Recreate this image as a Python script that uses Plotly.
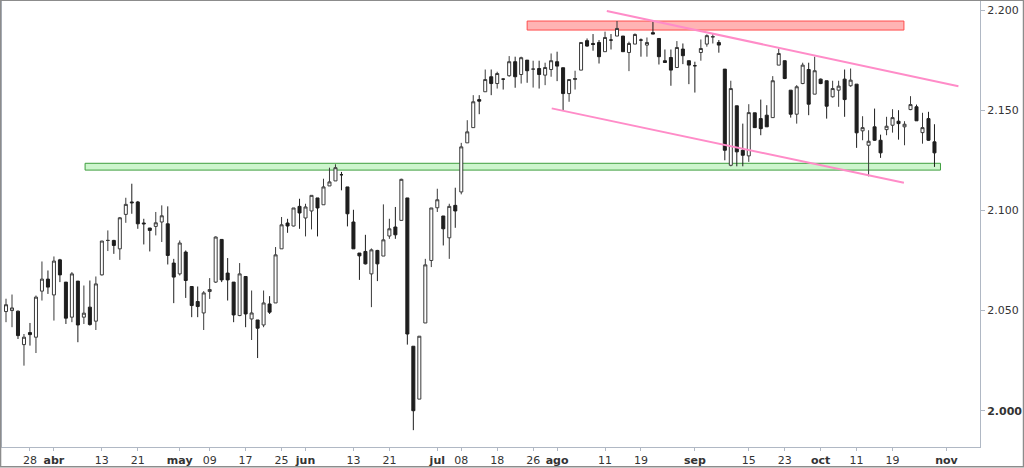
import plotly.graph_objects as go

# ---- data ----
opens = [2.0495, 2.0500, 2.0497, 2.0330, 2.0390, 2.0367, 2.0597, 2.0657, 2.0578, 2.0753,
         2.0642, 2.0467, 2.0647, 2.0467, 2.0517, 2.0447, 2.0678, 2.0850, 2.0850, 2.0808,
         2.0980, 2.1042, 2.1042, 2.0937, 2.0912, 2.0920, 2.0942, 2.0933, 2.0737, 2.0683,
         2.0792, 2.0620, 2.0545, 2.0488, 2.0595, 2.0642, 2.0855, 2.0687, 2.0642, 2.0475,
         2.0670, 2.0458, 2.0453, 2.0428, 2.0533, 2.0538, 2.0808, 2.0937, 2.0922, 2.1020,
         2.0962, 2.0997, 2.1062, 2.1028, 2.1122, 2.1147, 2.1178, 2.1117, 2.0942, 2.0787,
         2.0795, 2.0683, 2.0800, 2.0772, 2.0872, 2.0917, 2.0950, 2.1062, 2.0322, 2.0058,
         2.0438, 2.0750, 2.1013, 2.0972, 2.0863, 2.1025, 2.1092, 2.1337, 2.1413, 2.1553,
         2.1592, 2.1667, 2.1633, 2.1655, 2.1672, 2.1742, 2.1678, 2.1750, 2.1705, 2.1708,
         2.1675, 2.1703, 2.1742, 2.1712, 2.1583, 2.1653, 2.1700, 2.1847, 2.1833, 2.1838,
         2.1792, 2.1850, 2.1870, 2.1870, 2.1788, 2.1830, 2.1850, 2.1825, 2.1887, 2.1858,
         2.1747, 2.1763, 2.1713, 2.1805, 2.1747, 2.1722, 2.1788, 2.1830, 2.1865, 2.1838,
         2.1705, 2.1225, 2.1522, 2.1300, 2.1272, 2.1487, 2.1458, 2.1475, 2.1463, 2.1725,
         2.1747, 2.1600, 2.1480, 2.1633, 2.1703, 2.1580, 2.1655, 2.1647, 2.1567, 2.1600,
         2.1655, 2.1622, 2.1630, 2.1397, 2.1325, 2.1417, 2.1350, 2.1403, 2.1425, 2.1445,
         2.1417, 2.1503, 2.1517, 2.1388, 2.1458, 2.1342]
highs = [2.0559, 2.0580, 2.0500, 2.0383, 2.0438, 2.0575, 2.0745, 2.0700, 2.0770, 2.0758,
         2.0642, 2.0692, 2.0647, 2.0625, 2.0650, 2.0670, 2.0847, 2.0900, 2.0853, 2.0967,
         2.1063, 2.1133, 2.1047, 2.0958, 2.0912, 2.0992, 2.1025, 2.1020, 2.0758, 2.0850,
         2.0800, 2.0620, 2.0620, 2.0597, 2.0662, 2.0870, 2.0855, 2.0762, 2.0642, 2.0737,
         2.0670, 2.0600, 2.0453, 2.0600, 2.0572, 2.0817, 2.0967, 2.0958, 2.1012, 2.1058,
         2.1033, 2.1075, 2.1062, 2.1158, 2.1213, 2.1230, 2.1192, 2.1117, 2.1003, 2.0787,
         2.0878, 2.0810, 2.0803, 2.1030, 2.0958, 2.1017, 2.1158, 2.1062, 2.0322, 2.0372,
         2.0758, 2.1012, 2.1108, 2.0972, 2.1033, 2.1113, 2.1337, 2.1450, 2.1575, 2.1575,
         2.1703, 2.1703, 2.1692, 2.1658, 2.1770, 2.1767, 2.1767, 2.1750, 2.1747, 2.1747,
         2.1737, 2.1783, 2.1792, 2.1712, 2.1653, 2.1697, 2.1838, 2.1858, 2.1880, 2.1850,
         2.1892, 2.1880, 2.1945, 2.1870, 2.1842, 2.1883, 2.1858, 2.1863, 2.1942, 2.1858,
         2.1803, 2.1803, 2.1845, 2.1833, 2.1747, 2.1742, 2.1853, 2.1878, 2.1883, 2.1850,
         2.1705, 2.1647, 2.1522, 2.1433, 2.1530, 2.1487, 2.1553, 2.1525, 2.1670, 2.1808,
         2.1747, 2.1600, 2.1625, 2.1737, 2.1737, 2.1767, 2.1658, 2.1647, 2.1647, 2.1647,
         2.1703, 2.1708, 2.1630, 2.1470, 2.1400, 2.1508, 2.1378, 2.1467, 2.1505, 2.1500,
         2.1445, 2.1570, 2.1528, 2.1487, 2.1492, 2.1430]
lows = [2.0442, 2.0417, 2.0358, 2.0225, 2.0325, 2.0288, 2.0550, 2.0583, 2.0450, 2.0642,
        2.0433, 2.0442, 2.0342, 2.0433, 2.0425, 2.0403, 2.0675, 2.0797, 2.0783, 2.0753,
        2.0938, 2.0983, 2.0908, 2.0830, 2.0795, 2.0875, 2.0842, 2.0730, 2.0537, 2.0675,
        2.0563, 2.0467, 2.0467, 2.0403, 2.0558, 2.0638, 2.0642, 2.0550, 2.0442, 2.0472,
        2.0417, 2.0353, 2.0263, 2.0417, 2.0483, 2.0538, 2.0808, 2.0888, 2.0920, 2.0908,
        2.0870, 2.0905, 2.0870, 2.1028, 2.1122, 2.1147, 2.1100, 2.0920, 2.0808, 2.0653,
        2.0730, 2.0517, 2.0647, 2.0772, 2.0858, 2.0858, 2.0950, 2.0330, 1.9903, 2.0058,
        2.0438, 2.0717, 2.0992, 2.0825, 2.0758, 2.0913, 2.1080, 2.1337, 2.1413, 2.1480,
        2.1592, 2.1575, 2.1608, 2.1603, 2.1667, 2.1612, 2.1633, 2.1637, 2.1613, 2.1608,
        2.1625, 2.1667, 2.1645, 2.1500, 2.1542, 2.1603, 2.1700, 2.1817, 2.1797, 2.1733,
        2.1792, 2.1803, 2.1870, 2.1792, 2.1695, 2.1830, 2.1767, 2.1767, 2.1880, 2.1728,
        2.1738, 2.1622, 2.1713, 2.1730, 2.1630, 2.1588, 2.1747, 2.1817, 2.1833, 2.1787,
        2.1250, 2.1220, 2.1220, 2.1220, 2.1242, 2.1413, 2.1375, 2.1417, 2.1463, 2.1725,
        2.1655, 2.1463, 2.1433, 2.1630, 2.1475, 2.1580, 2.1630, 2.1458, 2.1563, 2.1517,
        2.1467, 2.1617, 2.1312, 2.1350, 2.1170, 2.1347, 2.1262, 2.1375, 2.1388, 2.1353,
        2.1325, 2.1500, 2.1447, 2.1333, 2.1347, 2.1217]
closes = [2.0529, 2.0513, 2.0375, 2.0367, 2.0380, 2.0567, 2.0657, 2.0617, 2.0747, 2.0678,
          2.0462, 2.0683, 2.0428, 2.0487, 2.0430, 2.0633, 2.0847, 2.0850, 2.0825, 2.0963,
          2.1030, 2.1038, 2.0933, 2.0933, 2.0900, 2.0938, 2.0973, 2.0775, 2.0667, 2.0837,
          2.0650, 2.0525, 2.0520, 2.0588, 2.0605, 2.0867, 2.0653, 2.0653, 2.0478, 2.0683,
          2.0483, 2.0488, 2.0412, 2.0538, 2.0492, 2.0778, 2.0928, 2.0922, 2.1012, 2.0987,
          2.1017, 2.1075, 2.1012, 2.1117, 2.1142, 2.1213, 2.1178, 2.0983, 2.0808, 2.0773,
          2.0733, 2.0803, 2.0733, 2.0853, 2.0908, 2.0878, 2.1155, 2.0383, 2.0000, 2.0372,
          2.0728, 2.1012, 2.1053, 2.0908, 2.1020, 2.0997, 2.1317, 2.1392, 2.1542, 2.1545,
          2.1653, 2.1633, 2.1683, 2.1655, 2.1742, 2.1667, 2.1762, 2.1697, 2.1705, 2.1678,
          2.1713, 2.1747, 2.1720, 2.1583, 2.1653, 2.1658, 2.1838, 2.1820, 2.1828, 2.1767,
          2.1863, 2.1850, 2.1908, 2.1792, 2.1833, 2.1878, 2.1850, 2.1838, 2.1880, 2.1767,
          2.1738, 2.1700, 2.1813, 2.1772, 2.1725, 2.1722, 2.1808, 2.1872, 2.1867, 2.1825,
          2.1300, 2.1608, 2.1292, 2.1275, 2.1488, 2.1413, 2.1408, 2.1417, 2.1647, 2.1783,
          2.1658, 2.1480, 2.1617, 2.1725, 2.1530, 2.1697, 2.1633, 2.1520, 2.1608, 2.1620,
          2.1553, 2.1650, 2.1387, 2.1413, 2.1345, 2.1350, 2.1287, 2.1420, 2.1463, 2.1433,
          2.1430, 2.1528, 2.1447, 2.1413, 2.1350, 2.1287]
sessions = list(range(len(closes)))

tick_sessions = [4, 8, 16, 22, 29, 34, 40, 46, 50, 58, 64, 72, 76, 82, 88, 92, 100, 106,
                 115, 124, 130, 136, 142, 148, 157]
tick_labels = ["28", "<b>abr</b>", "13", "21", "<b>may</b>", "09", "17", "25", "<b>jun</b>",
               "13", "21", "<b>jul</b>", "08", "18", "26", "<b>ago</b>", "11", "19",
               "<b>sep</b>", "15", "23", "<b>oct</b>", "11", "19", "<b>nov</b>"]
price_ticks = [2.000, 2.050, 2.100, 2.150, 2.200]
price_tick_labels = ["<b>2.000</b>", "2.050", "2.100", "2.150", "2.200"]

# annotation levels (sessions, prices)
support_zone = dict(x0=13.2, x1=156.0, y0=2.1201, y1=2.1235)
resistance_zone = dict(x0=87.0, x1=149.9, y0=2.1900, y1=2.1945)
upper_channel = dict(x0=100.3, y0=2.1995, x1=159.0, y1=2.1620)
lower_channel = dict(x0=91.1, y0=2.1509, x1=149.9, y1=2.1138)

fig = go.Figure()
fig.add_trace(go.Candlestick(
    x=sessions, open=opens, high=highs, low=lows, close=closes,
    increasing=dict(fillcolor="#ffffff", line=dict(color="#3a3a3a", width=1)),
    decreasing=dict(fillcolor="#1e1e1e", line=dict(color="#1e1e1e", width=1)),
    whiskerwidth=0, hoverinfo="skip", showlegend=False,
))

shapes = [
    dict(type="rect", xref="x", yref="y", layer="below", **support_zone,
         fillcolor="#cdf5cd", line=dict(color="#3f9f3f", width=1)),
    dict(type="rect", xref="x", yref="y", layer="below", **resistance_zone,
         fillcolor="#ffb4b4", line=dict(color="#ff4d4d", width=1)),
    dict(type="line", xref="x", yref="y", layer="above", **upper_channel,
         line=dict(color="#ff8cc8", width=2)),
    dict(type="line", xref="x", yref="y", layer="above", **lower_channel,
         line=dict(color="#ff8cc8", width=2)),
    # outer frame of the picture
    dict(type="rect", xref="paper", yref="paper", x0=-0.0015, x1=1.0445, y0=-0.0445, y1=1.0015,
         line=dict(color="#8c8c8c", width=1.5), fillcolor="rgba(0,0,0,0)", layer="above"),
]

fig.update_layout(
    width=1024, height=468,
    margin=dict(l=2, r=44, t=1, b=21),
    paper_bgcolor="#ffffff", plot_bgcolor="#ffffff",
    showlegend=False, shapes=shapes, boxgap=0.28,
    font=dict(family="DejaVu Sans, Verdana, sans-serif", size=11, color="#333333"),
    xaxis=dict(
        range=[-0.67, 162.6], rangeslider=dict(visible=False), showgrid=False, zeroline=False,
        tickmode="array", tickvals=tick_sessions, ticktext=tick_labels,
        ticks="outside", ticklen=3, tickcolor="#b0b8c4",
        showline=True, linecolor="#b0b8c4", linewidth=1, mirror=True,
        tickfont=dict(size=11, color="#333333"),
    ),
    yaxis=dict(
        range=[1.9819, 2.2045], side="right", showgrid=False, zeroline=False,
        tickmode="array", tickvals=price_ticks, ticktext=price_tick_labels,
        ticks="outside", ticklen=4, tickcolor="#b0b8c4",
        showline=True, linecolor="#b0b8c4", linewidth=1, mirror=True,
        tickfont=dict(size=11, color="#333333"),
    ),
)

fig.write_html("out.html")
